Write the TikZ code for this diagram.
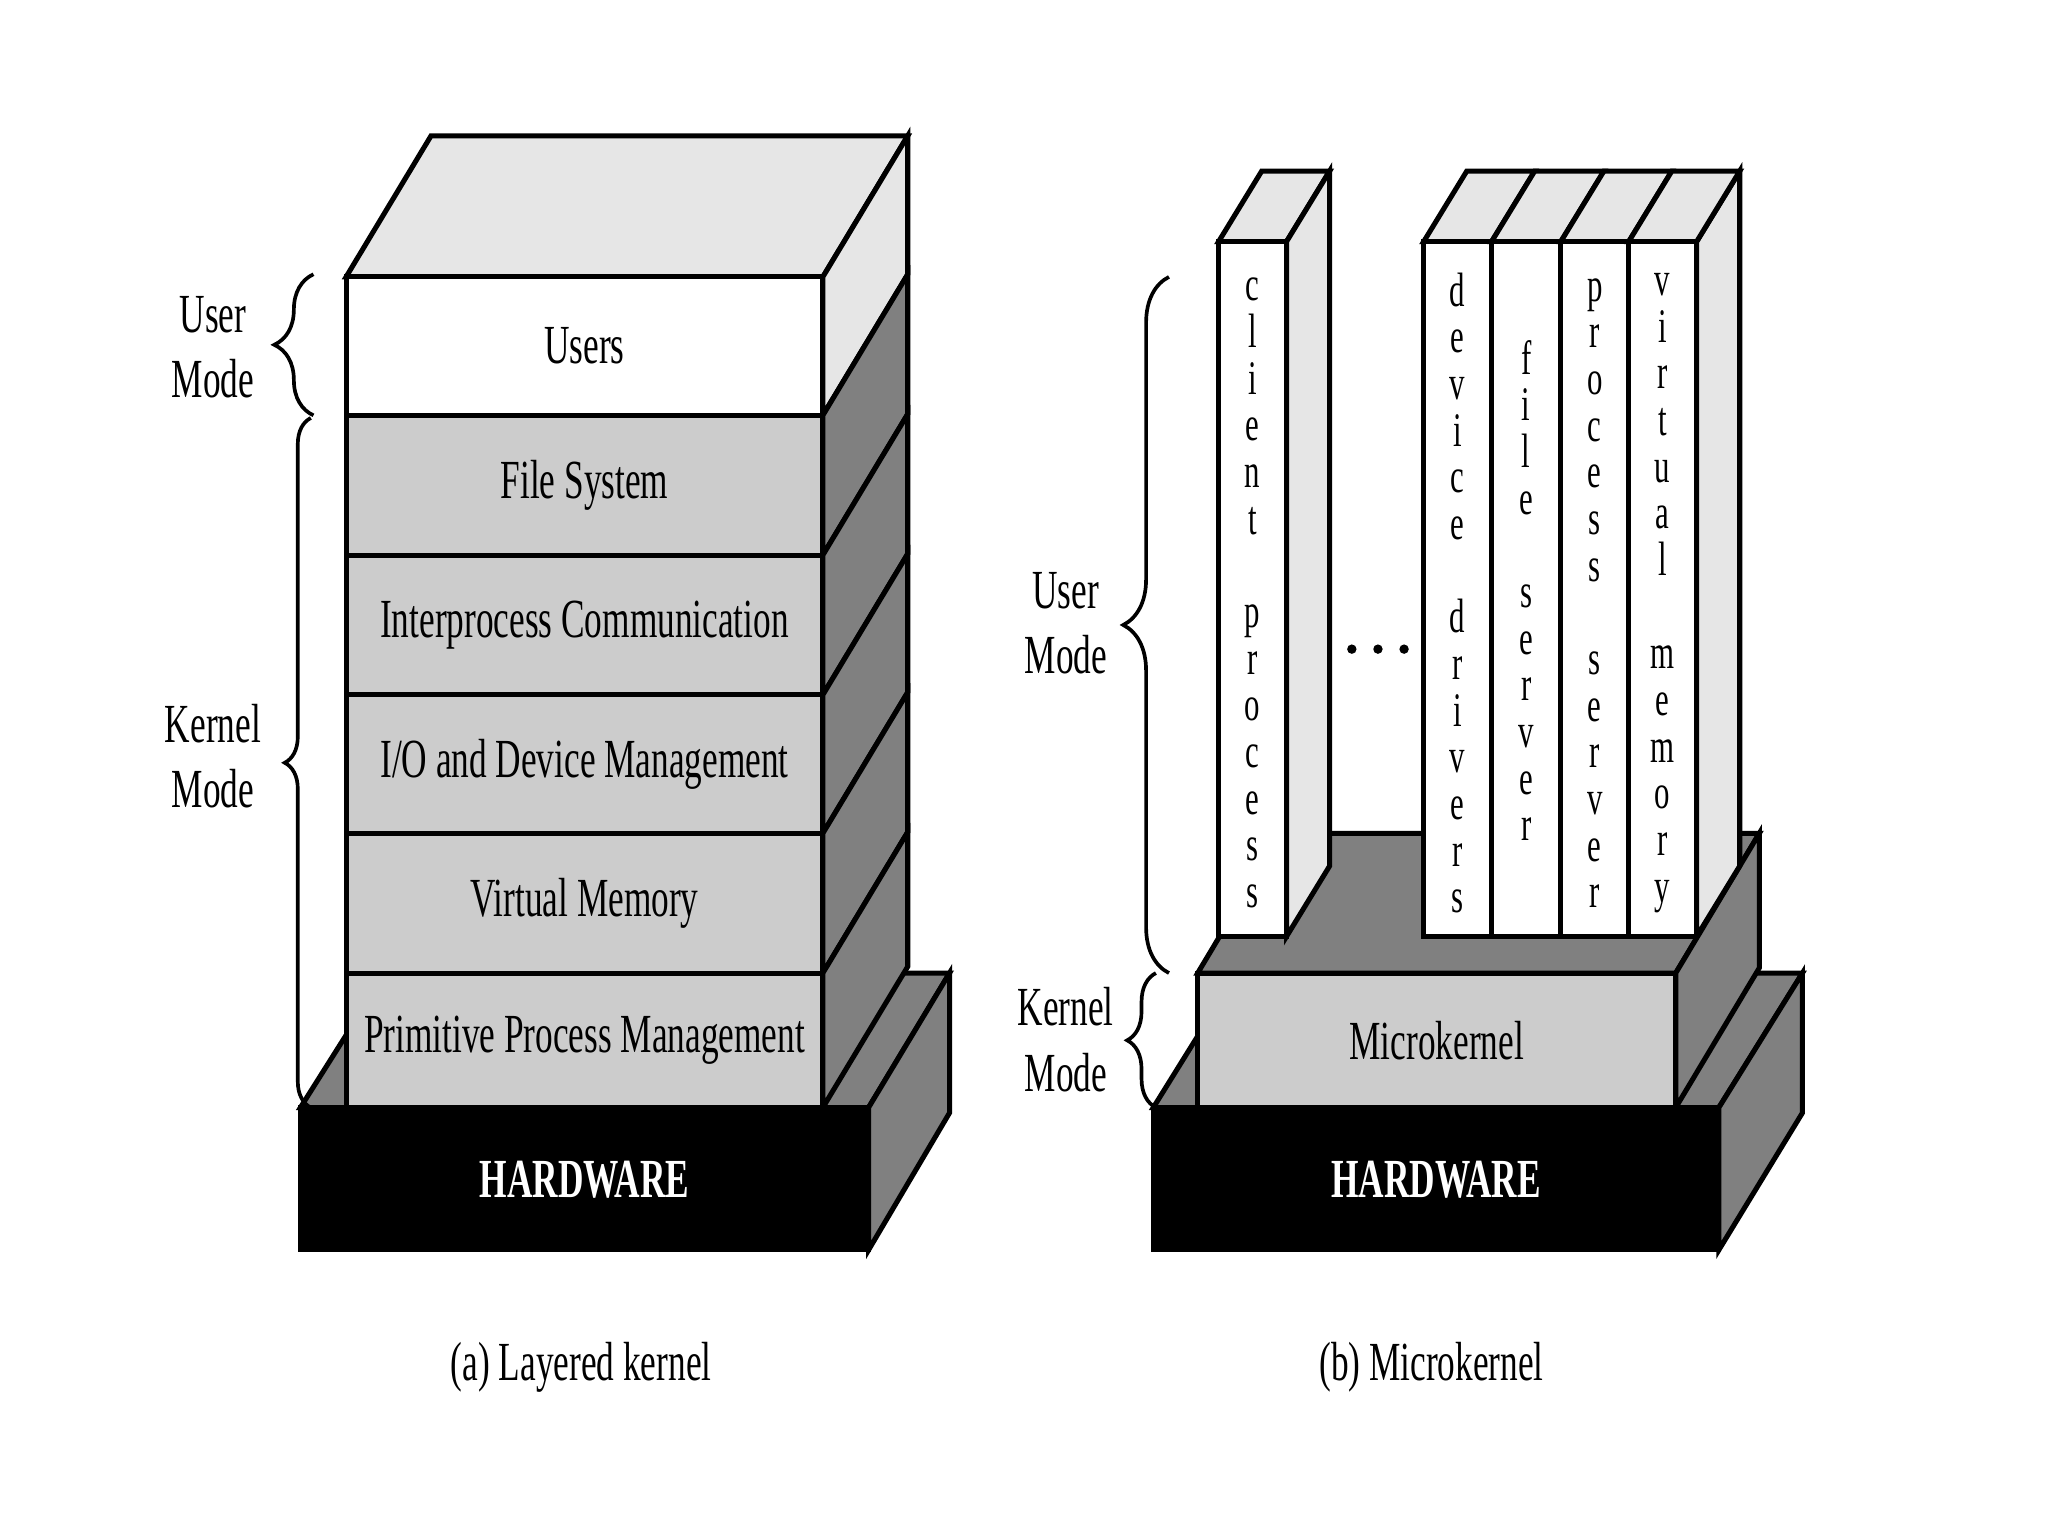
\documentclass[tikz,border=0pt]{standalone}
\usepackage{fontspec}
\setmainfont{Liberation Serif}[FakeStretch=0.64]
\usetikzlibrary{decorations.pathreplacing}
\definecolor{gL}{HTML}{E6E6E6}
\definecolor{gM}{HTML}{CCCCCC}
\definecolor{gD}{HTML}{808080}
\newcommand{\layrow}[6]{%
  \draw[face, fill=#4] (630,#1) -- (695,{#1-108}) -- (695,{#2-108}) -- (630,#2) -- cycle;
  \draw[face, fill=#3] (265,#1) rectangle (630,#2);
  \node[lbl] (#6) at (447.5,{(#1+#2)/2}) {#5};
}
\newcommand{\srvcol}[3]{%
  \draw[face, fill=gL] (#1,185) -- (#2,185) -- ({#2+33},131) -- ({#1+33},131) -- cycle;
  \draw[face, fill=white] (#1,185) rectangle (#2,717);
}
\setlength{\lineskiplimit}{-20pt}
\begin{document}
\begin{tikzpicture}[x=0.01cm,y=-0.01cm,
  face/.style={draw=black, line width=1.1pt, line join=miter},
  lbl/.style={font=\fontsize{12}{14.2}\selectfont, align=center, inner sep=0pt},
  hwtext/.style={font=\fontsize{12}{14.2}\selectfont\bfseries, text=white, inner sep=0pt},
  vtext/.style={font=\fontsize{10.5}{10.16}\selectfont, align=center, inner sep=0pt},
  brc/.style={decorate, decoration={brace, amplitude=#1}, line width=0.8pt}]
\useasboundingbox (0,0) rectangle (1568,1176);

% ---------------- (a) Layered kernel ----------------
\draw[face, fill=gD] (230,848) -- (665,848) -- (727,745) -- (295,745) -- cycle;
\draw[face, fill=gD] (665,848) -- (727,745) -- (727,852) -- (665,957) -- cycle;
\draw[face, fill=black] (230,848) rectangle (665,957);
\node[hwtext] (hwa) at (447.5,903) {HARDWARE};

\draw[face, fill=gL] (265,212) -- (630,212) -- (695,104) -- (330,104) -- cycle;
\layrow{212}{318}{white}{gL}{Users}{ru}
\layrow{318}{425}{gM}{gD}{File System}{rfs}
\layrow{425}{532}{gM}{gD}{Interprocess Communication}{ripc}
\layrow{532}{638}{gM}{gD}{I/O and Device Management}{rio}
\layrow{638}{745}{gM}{gD}{Virtual Memory}{rvm}
\layrow{745}{848}{gM}{gD}{Primitive Process Management}{rppm}

\draw[brc=0.3cm] (240,318) -- (240,210);
\draw[brc=0.2cm] (238,848) -- (238,320);
\node[lbl] (uma) at (163,266) {User\\Mode};
\node[lbl] (kma) at (163,579) {Kernel\\Mode};

\node[lbl] (capa) at (445,1047) {(a) Layered kernel};

% ---------------- (b) Microkernel ----------------
\draw[face, fill=gD] (883,848) -- (1316,848) -- (1380,745) -- (947,745) -- cycle;
\draw[face, fill=gD] (1316,848) -- (1380,745) -- (1380,852) -- (1316,957) -- cycle;
\draw[face, fill=black] (883,848) rectangle (1316,957);
\node[hwtext] (hwb) at (1099.5,903) {HARDWARE};

\draw[face, fill=gD] (917,745) -- (1283,745) -- (1347,638) -- (981,638) -- cycle;
\draw[face, fill=gD] (1283,745) -- (1347,638) -- (1347,741) -- (1283,848) -- cycle;
\draw[face, fill=gM] (917,745) rectangle (1283,848);
\node[lbl] (mk) at (1100,797) {Microkernel};

% client process column
\draw[face, fill=gL] (933,185) -- (985,185) -- (1018,131) -- (966,131) -- cycle;
\draw[face, fill=gL] (985,185) -- (1018,131) -- (1018,663) -- (985,717) -- cycle;
\draw[face, fill=white] (933,185) rectangle (985,717);
\node[vtext] (cp) at (959,454) {c\\l\\i\\e\\n\\t\\~\\p\\r\\o\\c\\e\\s\\s};

% server columns
\draw[face, fill=gL] (1299,185) -- (1332,131) -- (1332,663) -- (1299,717) -- cycle;
\srvcol{1090}{1142}{}
\srvcol{1142}{1195}{}
\srvcol{1195}{1247}{}
\srvcol{1247}{1299}{}
\node[vtext] (dd) at (1116,454) {d\\e\\v\\i\\c\\e\\~\\d\\r\\i\\v\\e\\r\\s};
\node[vtext] (fs) at (1168.5,452) {f\\i\\l\\e\\~\\s\\e\\r\\v\\e\\r};
\node[vtext] (ps) at (1221,454) {p\\r\\o\\c\\e\\s\\s\\~\\s\\e\\r\\v\\e\\r};
\node[vtext] (vm) at (1273,454) {v\\i\\r\\t\\u\\a\\l\\~\\m\\e\\m\\o\\r\\y};

% dots
\fill (1035,497) circle (3.6);
\fill (1055,497) circle (3.6);
\fill (1075,497) circle (3.6);

\draw[brc=0.35cm] (895,745) -- (895,212);
\draw[brc=0.22cm] (885,848) -- (885,745);
\node[lbl] (umb) at (816,477) {User\\Mode};
\node[lbl] (kmb) at (816,796) {Kernel\\Mode};

\node[lbl] (capb) at (1096,1047) {(b) Microkernel};
\end{tikzpicture}
\end{document}
